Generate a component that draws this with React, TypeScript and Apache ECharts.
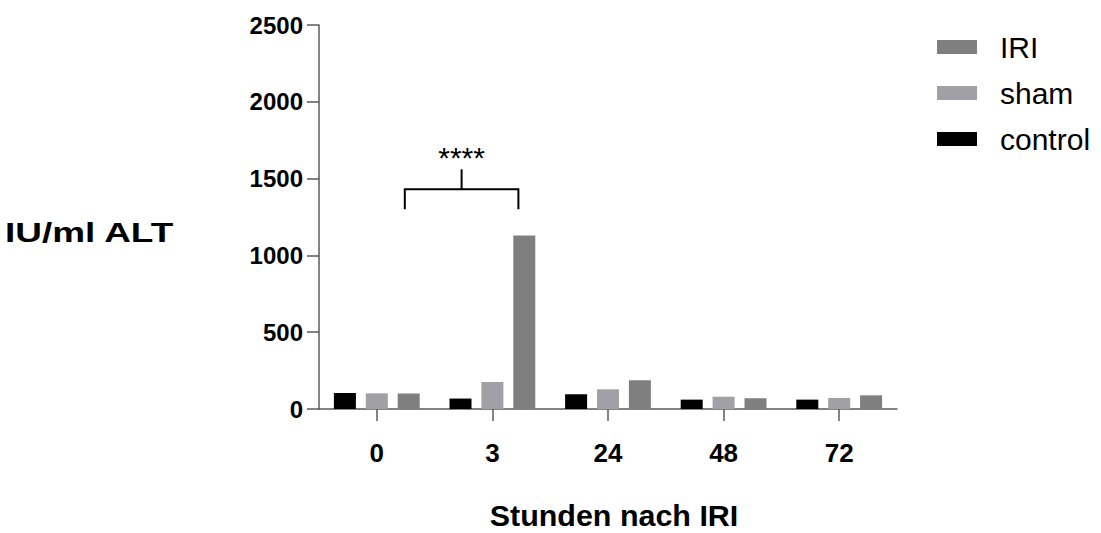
import React, { useEffect, useRef } from "react";
import * as echarts from "echarts";

const categories = ["0", "3", "24", "48", "72"];
const controlValues = [104, 68, 96, 61, 61];
const shamValues = [102, 176, 128, 80, 72];
const iriValues = [101, 1130, 187, 70, 89];
const yTicks = { min: 0, max: 2500, interval: 500 };
const significance = "****";
const bracketFrom = "0";
const bracketTo = "3";
const bracketValue = 1300;

const FONT = "'Liberation Sans', Arial, sans-serif";
const C_IRI = "#7f7f7f";
const C_SHAM = "#a1a1a5";
const C_CONTROL = "#000000";
const AXIS = "#5a5a5a";

export default function App() {
  const ref = useRef<HTMLDivElement>(null);
  useEffect(() => {
    if (!ref.current) return;
    const chart = echarts.init(ref.current, undefined, { renderer: "svg" });
    const barCommon = { type: "bar", barWidth: 22, barGap: "45%" };
    chart.setOption({
      animation: false,
      textStyle: { fontFamily: FONT },
      grid: { left: 319, top: 25, width: 578, height: 384, containLabel: false },
      legend: {
        orient: "vertical",
        left: 937,
        top: 32,
        padding: 0,
        itemWidth: 40,
        itemHeight: 14,
        itemGap: 16,
        icon: "rect",
        data: ["IRI", "sham", "control"],
        textStyle: { fontFamily: FONT, fontSize: 30, color: "#000", lineHeight: 30, padding: [0, 0, 0, 18] },
      },
      xAxis: {
        type: "category",
        data: categories,
        axisLine: { lineStyle: { color: AXIS, width: 1.5 } },
        axisTick: { show: true, length: 12, alignWithLabel: true, lineStyle: { color: AXIS, width: 1.5 } },
        axisLabel: { fontFamily: FONT, fontSize: 26, fontWeight: "bold", color: "#000", margin: 31 },
        splitLine: { show: false },
      },
      yAxis: {
        type: "value",
        min: yTicks.min,
        max: yTicks.max,
        interval: yTicks.interval,
        axisLine: { show: true, lineStyle: { color: AXIS, width: 1.5 } },
        axisTick: { show: true, length: 12, lineStyle: { color: AXIS, width: 1.5 } },
        axisLabel: {
          fontFamily: FONT,
          fontSize: 24,
          fontWeight: "bold",
          color: "#000",
          margin: 16,
          formatter: (v: number) => String(v),
        },
        splitLine: { show: false },
      },
      series: [
        { ...barCommon, name: "control", data: controlValues, itemStyle: { color: C_CONTROL } },
        { ...barCommon, name: "sham", data: shamValues, itemStyle: { color: C_SHAM } },
        { ...barCommon, name: "IRI", data: iriValues, itemStyle: { color: C_IRI } },
      ],
    });

    const x0 = chart.convertToPixel({ xAxisIndex: 0 }, bracketFrom) as number;
    const x1 = chart.convertToPixel({ xAxisIndex: 0 }, bracketTo) as number;
    const yLow = chart.convertToPixel({ yAxisIndex: 0 }, bracketValue) as number;
    const yBar = yLow - 20;
    const yStub = yBar - 20;
    const left = x0 + 28;
    const right = x1 + 26;
    const mid = (left + right) / 2;
    const lineStyle = { stroke: "#000", lineWidth: 2 };
    chart.setOption({
      graphic: [
        { type: "polyline", shape: { points: [[left, yLow], [left, yBar], [right, yBar], [right, yLow]] }, style: { ...lineStyle, fill: "none" } },
        { type: "line", shape: { x1: mid, y1: yBar, x2: mid, y2: yStub }, style: lineStyle },
        { type: "text", x: mid, y: yStub - 12, style: { text: significance, font: `30px ${FONT}`, fill: "#000", align: "center", verticalAlign: "middle" } },
        { type: "text", x: 5, y: 232, scaleX: 1.32, style: { text: "IU/ml ALT", font: `bold 28px ${FONT}`, fill: "#000", align: "left", verticalAlign: "middle" } },
        { type: "text", x: 614, y: 516, scaleX: 1.05, style: { text: "Stunden nach IRI", font: `bold 29px ${FONT}`, fill: "#000", align: "center", verticalAlign: "middle" } },
      ],
    });
    return () => chart.dispose();
  }, []);
  return <div ref={ref} style={{ position: "absolute", left: 0, top: 0, width: 1101, height: 533 }} />;
}
